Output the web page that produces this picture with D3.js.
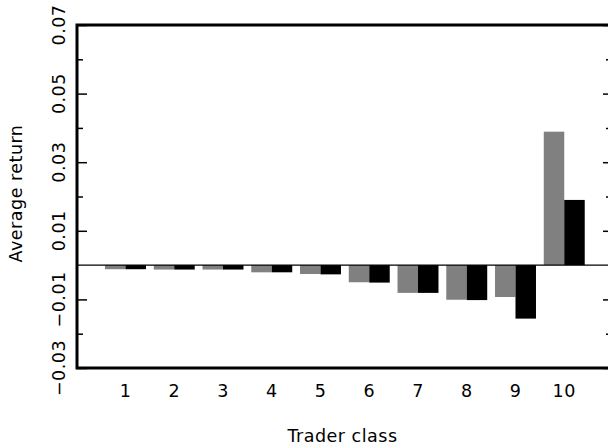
<!DOCTYPE html>
<html>
<head>
<meta charset="utf-8">
<script src="https://cdn.jsdelivr.net/npm/d3@7"></script>
<style>
  html, body { margin: 0; padding: 0; background: #fff; }
  svg text { font-family: "DejaVu Sans", sans-serif; font-size: 17.5px; letter-spacing: 0.5px; fill: #000; }
</style>
</head>
<body>
<svg id="chart" width="608" height="446"></svg>
<script>
const classes = ["1","2","3","4","5","6","7","8","9","10"];
const seriesNames = ["gray", "black"];
const grayValues  = [-0.0012, -0.0013, -0.0013, -0.0021, -0.0026, -0.0050, -0.0081, -0.0101, -0.0093, 0.0389];
const blackValues = [-0.0012, -0.0013, -0.0013, -0.0021, -0.0027, -0.0051, -0.0081, -0.0102, -0.0156, 0.0190];
const majorTicks = [-0.03, -0.01, 0.01, 0.03, 0.05, 0.07];
const minorTicks = [-0.02, 0.02, 0.04, 0.06];
const tickLabels = ["\u22120.03", "\u22120.01", "0.01", "0.03", "0.05", "0.07"];

const svg = d3.select("#chart");
const L = 77, R = 612, T = 25, B = 368;

const y = d3.scaleLinear().domain([-0.03, 0.07]).range([B, T]);
const step = 48.75;
const x0 = 125.5 - step / 2;
const x = d3.scaleBand().domain(classes).range([x0, x0 + step * classes.length])
  .paddingInner(0.16).paddingOuter(0.08);
const xs = d3.scaleBand().domain(seriesNames).range([0, x.bandwidth()]);
const color = d3.scaleOrdinal().domain(seriesNames).range(["#808080", "#000000"]);

const rows = classes.map((c, i) => ({ c, values: [
  { s: "gray", v: grayValues[i] }, { s: "black", v: blackValues[i] } ] }));

// bars
const g = svg.append("g");
g.selectAll("g.grp").data(rows).join("g")
  .attr("transform", d => `translate(${x(d.c)},0)`)
  .selectAll("rect").data(d => d.values).join("rect")
  .attr("x", d => xs(d.s))
  .attr("width", xs.bandwidth())
  .attr("y", d => y(Math.max(0, d.v)))
  .attr("height", d => Math.abs(y(d.v) - y(0)))
  .attr("fill", d => color(d.s));

// zero line
svg.append("line").attr("x1", L).attr("x2", R).attr("y1", y(0)).attr("y2", y(0))
  .attr("stroke", "#000").attr("stroke-width", 1.2);

// left axis ticks (inward)
const leftMajor = d3.axisRight(y).tickValues(majorTicks).tickSize(10).tickFormat("");
const leftMinor = d3.axisRight(y).tickValues(minorTicks).tickSize(6).tickFormat("");
[leftMajor, leftMinor].forEach(ax => {
  const a = svg.append("g").attr("transform", `translate(${L},0)`).call(ax);
  a.select(".domain").remove();
  a.selectAll("line").attr("stroke", "#000").attr("stroke-width", 1.5);
});
const rightMajor = d3.axisLeft(y).tickValues(majorTicks).tickSize(9).tickFormat("");
const rightMinor = d3.axisLeft(y).tickValues(minorTicks).tickSize(6).tickFormat("");
[rightMajor, rightMinor].forEach(ax => {
  const a = svg.append("g").attr("transform", `translate(${R},0)`).call(ax);
  a.select(".domain").remove();
  a.selectAll("line").attr("stroke", "#000").attr("stroke-width", 1.5);
});

// y tick labels rotated
svg.append("g").selectAll("text").data(majorTicks).join("text")
  .attr("transform", d => `translate(65,${y(d)}) rotate(-90)`)
  .attr("text-anchor", "middle")
  .text((d, i) => tickLabels[i]);

// x labels
svg.append("g").selectAll("text").data(classes).join("text")
  .attr("x", d => x(d) + x.bandwidth() / 2)
  .attr("y", 397)
  .attr("text-anchor", "middle")
  .text(d => d);

// frame
svg.append("path")
  .attr("d", `M${R},${T} H${L} V${B} H${R}`)
  .attr("fill", "none").attr("stroke", "#000").attr("stroke-width", 3)
  .attr("stroke-linejoin", "miter");
svg.append("line").attr("x1", R).attr("x2", R).attr("y1", T).attr("y2", B)
  .attr("stroke", "#000").attr("stroke-width", 3);

// axis titles
svg.append("text").attr("x", (L + R) / 2 - 2).attr("y", 442).attr("text-anchor", "middle")
  .text("Trader class");
svg.append("text").attr("transform", `translate(22,${(T + B) / 2 - 3}) rotate(-90)`)
  .attr("text-anchor", "middle").text("Average return");
</script>
</body>
</html>
